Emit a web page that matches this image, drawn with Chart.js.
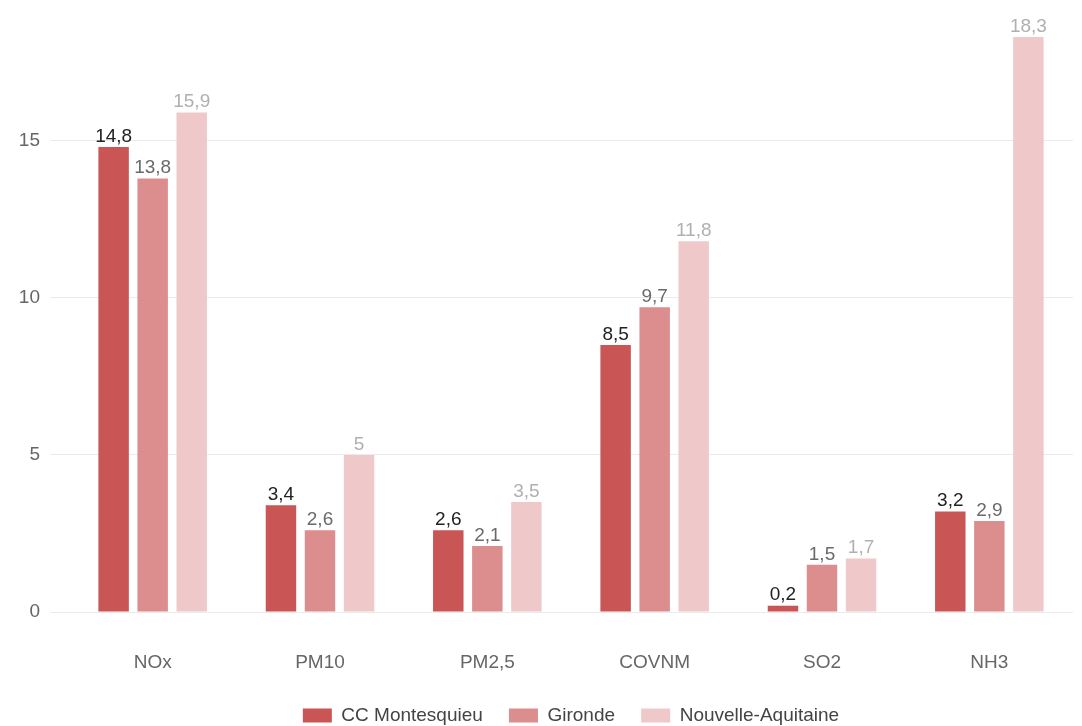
<!DOCTYPE html>
<html>
<head>
<meta charset="utf-8">
<script src="https://cdn.jsdelivr.net/npm/chart.js@4/dist/chart.umd.min.js"></script>
<style>
  html, body { margin: 0; padding: 0; background: #fff; }
  #wrap { width: 1082px; height: 726px; }
</style>
</head>
<body>
<div id="wrap"><canvas id="chart" width="1082" height="726"></canvas></div>
<script>
// polluants
var categories = ['NOx', 'PM10', 'PM2,5', 'COVNM', 'SO2', 'NH3'];
var seriesNames = ['CC Montesquieu', 'Gironde', 'Nouvelle-Aquitaine'];
var montesquieu = [14.8, 3.4, 2.6, 8.5, 0.2, 3.2];
var gironde = [13.8, 2.6, 2.1, 9.7, 1.5, 2.9];
var nouvelleAquitaine = [15.9, 5, 3.5, 11.8, 1.7, 18.3];
var yTicks = [0, 5, 10, 15];

var barColors = ['#c95555', '#dc8d8d', '#efc9ca'];
var labelColors = ['#222222', '#6a6a6a', '#b0b0b0'];

Chart.defaults.font.family = '"Liberation Sans", Arial, sans-serif';
Chart.defaults.font.size = 19;
Chart.defaults.color = '#666';

function frNum(v) {
    return String(v).replace('.', ',');
}

// valeurs au dessus des barres
var valueLabels = {
    id: 'valueLabels',
    afterDatasetsDraw: function(chart) {
        var ctx = chart.ctx;
        ctx.save();
        ctx.font = '19px "Liberation Sans", Arial, sans-serif';
        ctx.textAlign = 'center';
        ctx.textBaseline = 'bottom';
        chart.data.datasets.forEach(function(ds, i) {
            var meta = chart.getDatasetMeta(i);
            ctx.fillStyle = labelColors[i];
            meta.data.forEach(function(bar, j) {
                ctx.fillText(frNum(ds.data[j]), bar.x, bar.y - 1);
            });
        });
        ctx.restore();
    }
};

var ctx = document.getElementById('chart').getContext('2d');
var chart = new Chart(ctx, {
    type: 'bar',
    data: {
        labels: categories,
        datasets: [
            { label: seriesNames[0], data: montesquieu, backgroundColor: barColors[0] },
            { label: seriesNames[1], data: gironde, backgroundColor: barColors[1] },
            { label: seriesNames[2], data: nouvelleAquitaine, backgroundColor: barColors[2] }
        ]
    },
    options: {
        responsive: false,
        animation: false,
        devicePixelRatio: 1,
        categoryPercentage: 0.70,
        barPercentage: 0.78,
        layout: { padding: { top: 37, right: 9, bottom: -9, left: 0 } },
        plugins: {
            legend: {
                position: 'bottom',
                fullSize: false,
                labels: {
                    boxWidth: 29,
                    boxHeight: 14,
                    padding: 5,
                    color: '#444',
                    font: { size: 19 },
                    generateLabels: function(chart) {
                        var items = Chart.defaults.plugins.legend.labels.generateLabels(chart);
                        items.forEach(function(it, k) {
                            it.lineWidth = 0;
                            if (k < items.length - 1) it.text = it.text + '    ';
                        });
                        return items;
                    }
                }
            },
            tooltip: { enabled: false }
        },
        scales: {
            x: {
                grid: { display: false, drawTicks: false },
                border: { display: false },
                ticks: { padding: 39, color: '#666', font: { size: 19 } },
                afterFit: function(scale) { scale.height = 89; }
            },
            y: {
                min: 0,
                max: 18.3,
                grid: { color: '#ebebeb', tickLength: 19, drawTicks: true },
                border: { display: false },
                ticks: { stepSize: 5, padding: 10, color: '#666', font: { size: 19 } },
                afterBuildTicks: function(scale) {
                    scale.ticks = yTicks.map(function(v) { return { value: v }; });
                },
                afterFit: function(scale) { scale.width = 69; }
            }
        }
    },
    plugins: [valueLabels]
});
</script>
</body>
</html>
